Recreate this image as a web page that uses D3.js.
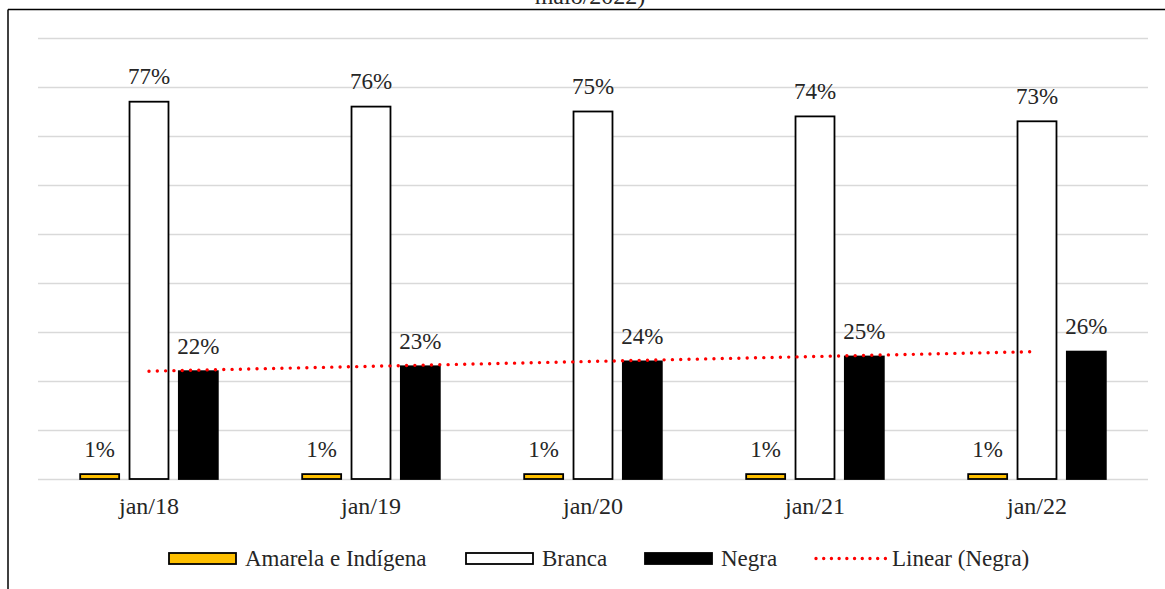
<!DOCTYPE html>
<html>
<head>
<meta charset="utf-8">
<script src="https://cdn.jsdelivr.net/npm/d3@7"></script>
<style>
  html, body { margin: 0; padding: 0; background: #fff; }
  svg { display: block; }
</style>
</head>
<body>
<svg id="chart" width="1165" height="589"></svg>
<script>
// Categories (january of each year)
const categories = ["jan/18", "jan/19", "jan/20", "jan/21", "jan/22"];

// Share of each group (fraction)
const amarelaIndigena = [0.01, 0.01, 0.01, 0.01, 0.01];
const branca = [0.77, 0.76, 0.75, 0.74, 0.73];
const negra = [0.22, 0.23, 0.24, 0.25, 0.26];

const seriesNames = ["Amarela e Indígena", "Branca", "Negra"];
const trendName = "Linear (Negra)";

// Gridline values
const gridTicks = [0, 0.1, 0.2, 0.3, 0.4, 0.5, 0.6, 0.7, 0.8, 0.9];

const FONT = "'Liberation Serif', 'DejaVu Serif', serif";
const TEXT_COLOR = "#262626";

const seriesStyle = {
  "Amarela e Indígena": { fill: "#FFC000", stroke: "#000" },
  "Branca": { fill: "#FFFFFF", stroke: "#000" },
  "Negra": { fill: "#000000", stroke: "#000" }
};

const seriesValues = {
  "Amarela e Indígena": amarelaIndigena,
  "Branca": branca,
  "Negra": negra
};

const svg = d3.select("#chart")
  .attr("font-family", FONT);

// Outer frame (top and left edges)
svg.append("line").attr("x1", 8).attr("x2", 1165).attr("y1", 9.5).attr("y2", 9.5)
  .attr("stroke", "#000").attr("stroke-width", 1.5);
svg.append("line").attr("x1", 8).attr("x2", 8).attr("y1", 9.5).attr("y2", 589)
  .attr("stroke", "#000").attr("stroke-width", 1.5);

// Title fragment
svg.append("text").attr("x", 590).attr("y", 4).attr("text-anchor", "middle")
  .attr("font-family", FONT).attr("font-size", 24).attr("fill", TEXT_COLOR)
  .text("maio/2022)");

const plot = { left: 38, right: 1148, top: 38, bottom: 479 };

const x0 = d3.scaleBand().domain(categories).range([plot.left, plot.right]).padding(0);
const groupPad = x0.bandwidth() * 0.19;
const x1 = d3.scaleBand().domain(seriesNames)
  .range([groupPad, x0.bandwidth() - groupPad]).paddingInner(0.21).paddingOuter(0);
const y = d3.scaleLinear().domain([0, 0.9]).range([plot.bottom, plot.top]);

// Horizontal gridlines
const yAxis = d3.axisLeft(y).tickValues(gridTicks).tickSize(-(plot.right - plot.left)).tickFormat("");
const gAxis = svg.append("g").attr("transform", `translate(${plot.left},0)`).call(yAxis);
gAxis.select(".domain").remove();
gAxis.selectAll(".tick line").attr("stroke", "#D9D9D9").attr("stroke-width", 1.5);

// Bars
const groups = svg.selectAll("g.cat").data(categories).join("g")
  .attr("class", "cat")
  .attr("transform", d => `translate(${x0(d)},0)`);

groups.selectAll("rect").data((d, i) => seriesNames.map(s => ({ s, v: seriesValues[s][i] })))
  .join("rect")
  .attr("x", d => x1(d.s))
  .attr("width", x1.bandwidth())
  .attr("y", d => y(d.v))
  .attr("height", d => y(0) - y(d.v))
  .attr("fill", d => seriesStyle[d.s].fill)
  .attr("stroke", d => seriesStyle[d.s].stroke)
  .attr("stroke-width", 1.8);

// Linear trendline for Negra (least squares over category index)
const n = negra.length;
const idx = d3.range(n);
const mx = d3.mean(idx), my = d3.mean(negra);
const slope = d3.sum(idx, i => (i - mx) * (negra[i] - my)) / d3.sum(idx, i => (i - mx) ** 2);
const intercept = my - slope * mx;
const trend = idx.map(i => ({ c: categories[i], v: intercept + slope * i }));
const cx = c => x0(c) + x0.bandwidth() / 2;

svg.append("path").datum([trend[0], trend[n - 1]])
  .attr("d", d3.line().x(d => cx(d.c)).y(d => y(d.v)))
  .attr("fill", "none").attr("stroke", "#FF0000").attr("stroke-width", 3.4)
  .attr("stroke-linecap", "round").attr("stroke-dasharray", "0.01 8.3");

// Value labels
const fmt = d3.format(".0%");
groups.selectAll("text.val").data((d, i) => seriesNames.map(s => ({ s, v: seriesValues[s][i] })))
  .join("text").attr("class", "val")
  .attr("x", d => x1(d.s) + x1.bandwidth() / 2)
  .attr("y", d => y(d.v) - 17.5)
  .attr("text-anchor", "middle")
  .attr("font-family", FONT).attr("font-size", 23).attr("fill", TEXT_COLOR)
  .text(d => fmt(d.v));

// Category labels
svg.append("g").selectAll("text").data(categories).join("text")
  .attr("x", d => cx(d)).attr("y", 514)
  .attr("text-anchor", "middle")
  .attr("font-family", FONT).attr("font-size", 24).attr("fill", TEXT_COLOR)
  .text(d => d);

// Legend
const legendItems = [
  { name: seriesNames[0], x: 169, type: "bar" },
  { name: seriesNames[1], x: 466, type: "bar" },
  { name: seriesNames[2], x: 645, type: "bar" },
  { name: trendName, x: 815, type: "line" }
];
const legY = 558.5;
const leg = svg.append("g").selectAll("g").data(legendItems).join("g")
  .attr("transform", d => `translate(${d.x},${legY})`);

leg.filter(d => d.type === "bar").append("rect")
  .attr("x", 0).attr("y", -5.5).attr("width", 67).attr("height", 11)
  .attr("fill", d => seriesStyle[d.name].fill)
  .attr("stroke", d => seriesStyle[d.name].stroke).attr("stroke-width", 1.8);

leg.filter(d => d.type === "line").append("line")
  .attr("x1", 1).attr("x2", 71).attr("y1", 0).attr("y2", 0)
  .attr("stroke", "#FF0000").attr("stroke-width", 3.4)
  .attr("stroke-linecap", "round").attr("stroke-dasharray", "0.01 7.7");

leg.append("text")
  .attr("x", d => d.type === "line" ? 77 : 76)
  .attr("y", 7)
  .attr("font-family", FONT).attr("font-size", 23).attr("fill", TEXT_COLOR)
  .text(d => d.name);
</script>
</body>
</html>
